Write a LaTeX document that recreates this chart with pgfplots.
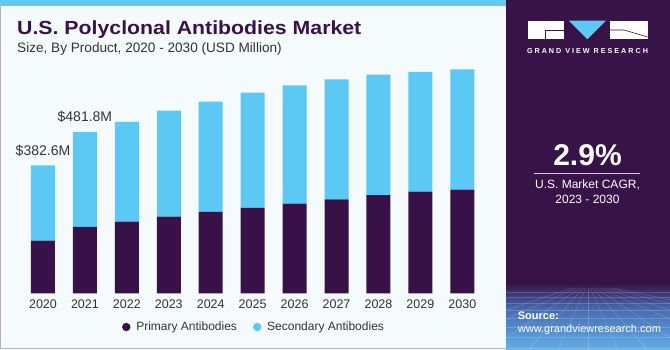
\documentclass[border=0pt]{standalone}
\usepackage{pgfplots}
\pgfplotsset{compat=1.18}
\usepackage{fontspec}
\setmainfont{Liberation Sans}
\definecolor{prim}{RGB}{55,17,71}
\definecolor{sec}{RGB}{92,201,245}
\definecolor{panel}{RGB}{55,19,72}
\definecolor{bgc}{RGB}{245,250,253}
\definecolor{strip}{RGB}{100,200,240}
\definecolor{subc}{RGB}{51,51,51}
\begin{document}
\begin{tikzpicture}[x=1pt,y=1pt]
\useasboundingbox (0,0) rectangle (670,350);
% backgrounds
\fill[bgc] (0,0) rectangle (506,350);
\draw[gray!60,line width=1pt] (0.5,1.5) -- (0.5,350) ;
\draw[gray!60,line width=1pt] (0,1.5) -- (506,1.5);
\fill[strip] (0,344) rectangle (506,350);
\fill[panel] (506,0) rectangle (670,350);
\shade[top color=panel, bottom color={rgb,255:red,70;green,110;blue,180}] (506,40) rectangle (670,67);
\shade[top color={rgb,255:red,70;green,110;blue,180}, bottom color={rgb,255:red,100;green,175;blue,230}] (506,0) rectangle (670,40);
\begin{scope}
\clip (506,0) rectangle (670,62);
\foreach \yy in {58,53,47,40,32,23,13,2}{\draw[white,opacity=0.18,line width=0.5pt] (506,\yy) -- (670,\yy);}
\foreach \xx in {-200,-150,-100,-60,-30,0,30,60,100,150,200,260,320}{\draw[white,opacity=0.18,line width=0.5pt] (588+\xx*0.08,62) -- (588+\xx,0);}
\end{scope}
% title
\node[anchor=base west,inner sep=0] at (17,315) {\scalebox{1.12}[1]{\bfseries\fontsize{19}{22}\selectfont\color{panel}U.S. Polyclonal Antibodies Market}};
\node[anchor=base west,font=\fontsize{13.6}{15}\selectfont,text=subc,inner sep=0] at (17,297) {Size, By Product, 2020 - 2030 (USD Million)};
% logo
\fill[white] (527.7,310.7) rectangle (563.7,329.3);
\fill[sec] (568.7,329.3) -- (606,329.3) -- (587.3,310.7) -- cycle;
\fill[white] (610,310.7) rectangle (647.7,329.3);
\draw[panel,line width=0.6pt] (563.7,319.5) -- (545,319.5) -- (545,310.7);
\draw[panel,line width=0.6pt] (610,320) -- (624,320) -- (647.7,313);
\node[anchor=base,inner sep=0,text=white] at (587.5,296.7) {\resizebox{121pt}{!}{\bfseries G R A N D\ \ V I E W\ \ R E S E A R C H}};
% CAGR
\node[anchor=base,inner sep=0,text=white,font=\bfseries\fontsize{30}{34}\selectfont] at (587.5,184.3) {2.9\%};
\draw[white!80!panel,line width=0.8pt] (533.7,176.7) -- (640.3,176.7);
\node[anchor=base,inner sep=0,text=white,font=\fontsize{12}{14}\selectfont] at (587.5,161) {U.S. Market CAGR,};
\node[anchor=base,inner sep=0,text=white,font=\fontsize{12}{14}\selectfont] at (587.5,146) {2023 - 2030};
\node[anchor=base west,inner sep=0,text=white,font=\bfseries\fontsize{11}{13}\selectfont] at (517.7,30) {Source:};
\node[anchor=base west,inner sep=0,text=white,font=\fontsize{11}{13}\selectfont] at (517.7,17) {www.grandviewresearch.com};
\begin{axis}[
  at={(22pt,56.7pt)}, anchor=south west,
  scale only axis, width=461.3pt, height=234.2pt,
  xmin=-0.5, xmax=10.5, ymin=0, ymax=700,
  ybar stacked, bar width=24pt,
  axis line style={draw=none},
  ytick=\empty,
  xtick={0,1,2,3,4,5,6,7,8,9,10},
  xticklabels={2020,2021,2022,2023,2024,2025,2026,2027,2028,2029,2030},
  major tick length=0pt,
  /pgf/number format/assume math mode=true,
  xticklabel style={font=\fontsize{12.5}{14}\selectfont, text=subc, anchor=center, yshift=-10.5pt},
  legend style={at={(0.503,-0.144)}, anchor=center, draw=none, fill=none,
     font=\fontsize{12}{13}\selectfont, text=subc,
     /tikz/every even column/.append style={column sep=14pt}},
  legend columns=2,
  clip=false,
]
\addplot[fill=prim, draw=none, legend image code/.code={\fill[prim] (0pt,0pt) circle (4.2pt); \path (8pt,0pt);}] coordinates {
(0,157.2) (1,198.2) (2,214) (3,229) (4,243) (5,255) (6,267.8) (7,281) (8,293.8) (9,303.7) (10,309.7)};
\addlegendentry{Primary Antibodies}
\addplot[fill=sec, draw=none, legend image code/.code={\fill[sec] (0pt,0pt) circle (4.2pt); \path (8pt,0pt);}] coordinates {
(0,225.4) (1,283.6) (2,298) (3,316.8) (4,329.7) (5,344.6) (6,353.9) (7,358.6) (8,359.6) (9,357.8) (10,359.8)};
\addlegendentry{Secondary Antibodies}
\node[anchor=base, font=\fontsize{14}{16}\selectfont, text=subc, inner sep=0] at (axis cs:0,412.5) {\$382.6M};
\node[anchor=base, font=\fontsize{14}{16}\selectfont, text=subc, inner sep=0] at (axis cs:1,512) {\$481.8M};
\end{axis}
\end{tikzpicture}
\end{document}
